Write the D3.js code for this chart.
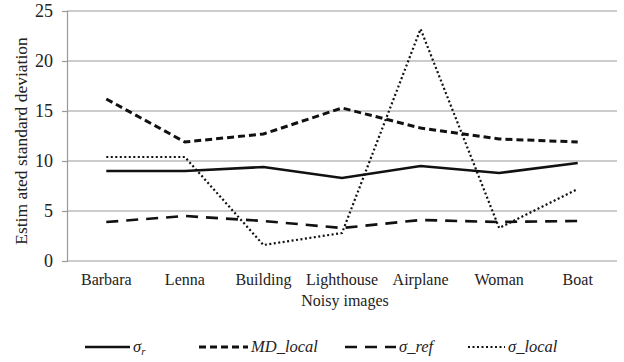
<!DOCTYPE html>
<html>
<head>
<meta charset="utf-8">
<script src="https://cdn.jsdelivr.net/npm/d3@7"></script>
<style>
  body { margin: 0; background: #fff; }
  svg { display: block; }
</style>
</head>
<body>
<svg id="chart" width="624" height="362"></svg>
<script>
// Test images
const categories = ["Barbara", "Lenna", "Building", "Lighthouse", "Airplane", "Woman", "Boat"];

// Estimated noise standard deviation per method
const sigmaR     = [9.0, 9.0, 9.4, 8.3, 9.5, 8.8, 9.8];
const mdLocal    = [16.2, 11.9, 12.7, 15.3, 13.3, 12.2, 11.9];
const sigmaRef   = [3.9, 4.5, 4.0, 3.3, 4.1, 3.9, 4.0];
const sigmaLocal = [10.4, 10.4, 1.6, 2.8, 23.2, 3.3, 7.2];

const yTicks = [0, 5, 10, 15, 20, 25];

const FONT = "Liberation Serif";
const INK = "#222";

const series = [
  { key: "r",     values: sigmaR,     width: 2.6, dash: null },
  { key: "md",    values: mdLocal,    width: 3,   dash: "7,4" },
  { key: "ref",   values: sigmaRef,   width: 2.6, dash: "12,8" },
  { key: "local", values: sigmaLocal, width: 2.2, dash: "2,2.5" }
];

const svg = d3.select("#chart");
const margin = { left: 67, right: 7, top: 11, bottom: 101 };
const W = 624, H = 362;

const x = d3.scaleBand().domain(categories).range([margin.left, W - margin.right]);
const y = d3.scaleLinear().domain([0, 25]).range([H - margin.bottom, margin.top]);

// horizontal gridlines
svg.append("g")
  .selectAll("line")
  .data(yTicks)
  .join("line")
  .attr("x1", margin.left).attr("x2", W - margin.right)
  .attr("y1", d => y(d)).attr("y2", d => y(d))
  .attr("stroke", "#9a9a9a").attr("stroke-width", 1.2);

// y axis
const yAxis = svg.append("g")
  .attr("transform", `translate(${margin.left},0)`)
  .call(d3.axisLeft(y).tickValues(yTicks).tickSize(5).tickPadding(9));
yAxis.attr("font-family", FONT).attr("font-size", 18);
yAxis.select(".domain").attr("stroke", "#9a9a9a").attr("stroke-width", 1.2);
yAxis.selectAll(".tick line").attr("stroke", "#9a9a9a").attr("stroke-width", 1.2);
yAxis.selectAll(".tick text").attr("fill", INK);

// x axis labels
const xAxis = svg.append("g")
  .attr("transform", `translate(0,${y(0)})`)
  .call(d3.axisBottom(x).tickSize(0).tickPadding(13));
xAxis.attr("font-family", FONT).attr("font-size", 16);
xAxis.select(".domain").remove();
xAxis.selectAll(".tick text").attr("fill", INK);

// axis titles
svg.append("text")
  .attr("x", 345)
  .attr("y", 306)
  .attr("text-anchor", "middle")
  .attr("font-family", FONT)
  .attr("font-size", 16)
  .attr("fill", INK)
  .text("Noisy images");

svg.append("text")
  .attr("transform", "translate(27,141) rotate(-90)")
  .attr("text-anchor", "middle")
  .attr("font-family", FONT)
  .attr("font-size", 17.5)
  .attr("fill", INK)
  .text("Estim ated standard deviation");

// series lines
const line = d3.line()
  .x((d, i) => x(categories[i]) + x.bandwidth() / 2)
  .y(d => y(d));

svg.append("g")
  .selectAll("path")
  .data(series)
  .join("path")
  .attr("d", d => line(d.values))
  .attr("fill", "none")
  .attr("stroke", "#111")
  .attr("stroke-width", d => d.width)
  .attr("stroke-dasharray", d => d.dash);

// legend
const legendY = 347;
const legendItems = [
  { s: series[0], x0: 85,  x1: 130, label: [["σ", ""], ["r", "sub"]] },
  { s: series[1], x0: 199, x1: 248, label: [["MD_local", ""]] },
  { s: series[2], x0: 345, x1: 396, label: [["σ_ref", ""]] },
  { s: series[3], x0: 468, x1: 505, label: [["σ_local", ""]] }
];
const lg = svg.append("g");
legendItems.forEach(it => {
  lg.append("line")
    .attr("x1", it.x0).attr("x2", it.x1)
    .attr("y1", legendY).attr("y2", legendY)
    .attr("stroke", "#111")
    .attr("stroke-width", it.s.width)
    .attr("stroke-dasharray", it.s.dash);
  const t = lg.append("text")
    .attr("x", it.x1 + 3).attr("y", legendY + 5)
    .attr("font-family", FONT)
    .attr("font-size", 16.5)
    .attr("font-style", "italic")
    .attr("fill", INK);
  it.label.forEach(([txt, kind]) => {
    const ts = t.append("tspan").text(txt);
    if (kind === "sub") ts.attr("dy", 3).attr("font-size", 11);
  });
});
</script>
</body>
</html>
